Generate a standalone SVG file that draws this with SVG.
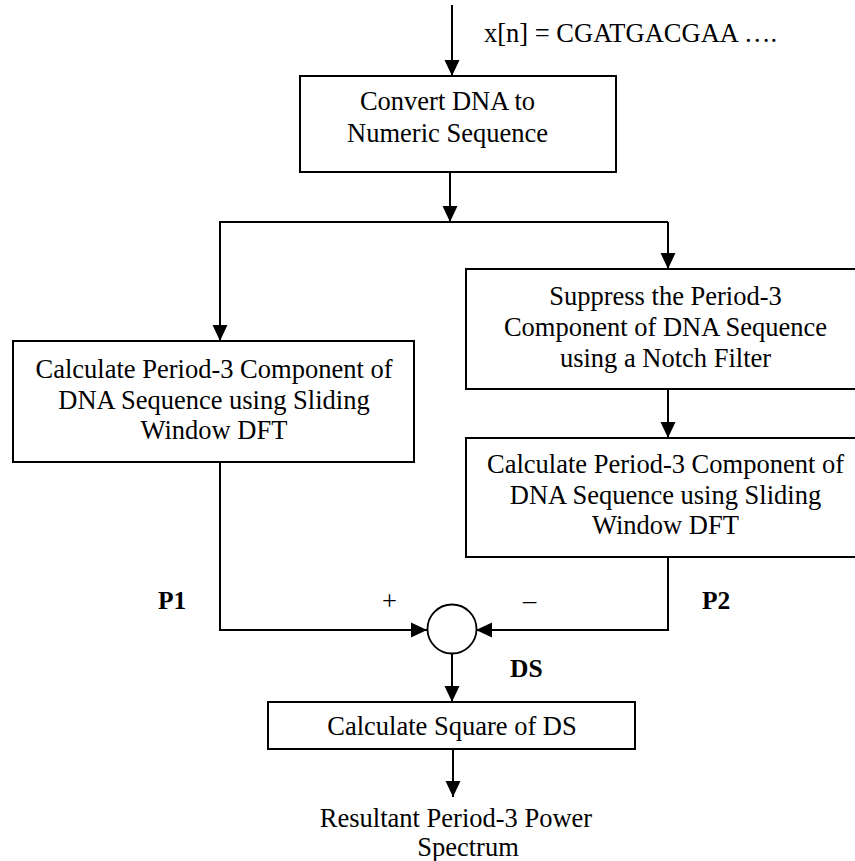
<svg xmlns="http://www.w3.org/2000/svg" width="855" height="861" viewBox="0 0 855 861">
<style>
  .box { fill: #fff; stroke: #000; stroke-width: 2; }
  .t { font-family: "Liberation Serif", "Times New Roman", serif; font-size: 26.5px; fill: #000; text-anchor: middle; }
  .b { font-family: "Liberation Serif", "Times New Roman", serif; font-size: 25.5px; font-weight: bold; fill: #000; }
  .c { fill: none; stroke: #000; stroke-width: 2; }
</style>
<defs>
  <marker id="ah" markerUnits="userSpaceOnUse" markerWidth="16" markerHeight="16" viewBox="0 0 15 14" refX="15" refY="7" orient="auto">
    <path d="M0,0 L15,7 L0,14 Z" fill="#000"/>
  </marker>
</defs>
<rect width="855" height="861" fill="#fff"/>
<g id="connectors">
  <path class="c" d="M452,5 V76" marker-end="url(#ah)"/>
  <path class="c" d="M450,172 V222" marker-end="url(#ah)"/>
  <path class="c" d="M668,222 H220 V341" marker-end="url(#ah)"/>
  <path class="c" d="M668,222 V269" marker-end="url(#ah)"/>
  <path class="c" d="M668,389 V438" marker-end="url(#ah)"/>
  <path class="c" d="M220,462 V630 H427" marker-end="url(#ah)"/>
  <path class="c" d="M668,557 V630 H476" marker-end="url(#ah)"/>
  <path class="c" d="M452,654 V702" stroke-width="1.6" marker-end="url(#ah)"/>
  <path class="c" d="M453,749 V797" marker-end="url(#ah)"/>
</g>
<g id="input-label">
  <text x="484" y="42" style="font-family:'Liberation Serif','Times New Roman',serif;font-size:26.5px">x[n] = CGATGACGAA ….</text>
</g>
<g id="convert">
  <rect class="box" x="300" y="76" width="316" height="96"/>
  <text class="t" x="447.5" y="110">Convert DNA to</text>
  <text class="t" x="447.5" y="142">Numeric Sequence</text>
</g>
<g id="calc-left">
  <rect class="box" x="13" y="341" width="401" height="121"/>
  <text class="t" x="214" y="378">Calculate Period-3 Component of</text>
  <text class="t" x="214" y="408.5">DNA Sequence using Sliding</text>
  <text class="t" x="214" y="439">Window DFT</text>
</g>
<g id="suppress">
  <rect class="box" x="466" y="269" width="404" height="120"/>
  <text class="t" x="665.5" y="305">Suppress the Period-3</text>
  <text class="t" x="665.5" y="336">Component of DNA Sequence</text>
  <text class="t" x="665.5" y="366.5">using a Notch Filter</text>
</g>
<g id="calc-right">
  <rect class="box" x="466" y="438" width="404" height="119"/>
  <text class="t" x="665.5" y="473">Calculate Period-3 Component of</text>
  <text class="t" x="665.5" y="504">DNA Sequence using Sliding</text>
  <text class="t" x="665.5" y="534">Window DFT</text>
</g>
<g id="p1"><text class="b" x="158" y="609">P1</text></g>
<g id="p2"><text class="b" x="702" y="609">P2</text></g>
<g id="plus"><text class="t" x="389.5" y="610">+</text></g>
<g id="minus"><text class="t" x="529.5" y="609">–</text></g>
<g id="sum">
  <circle cx="452" cy="629" r="24.5" fill="#fff" stroke="#000" stroke-width="1.8"/>
</g>
<g id="ds-label"><text class="b" x="510" y="677">DS</text></g>
<g id="square">
  <rect class="box" x="268" y="702" width="367" height="47"/>
  <text class="t" x="452" y="735">Calculate Square of DS</text>
</g>
<g id="output">
  <text class="t" x="456" y="827">Resultant Period-3 Power</text>
  <text class="t" x="468" y="856">Spectrum</text>
</g>
</svg>
